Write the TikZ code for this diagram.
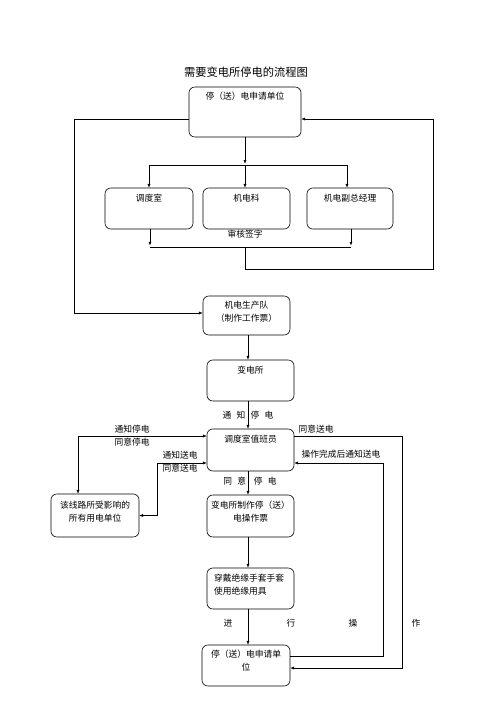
\documentclass[tikz,border=0pt]{standalone}
\usepackage{fontspec}
\setmainfont{Noto Sans CJK SC}
\usetikzlibrary{arrows.meta}
\begin{document}
\begin{tikzpicture}[x=1.2pt,y=-1.2pt,
 box/.style={draw, rounded corners=7pt, line width=0.7pt, inner sep=0pt},
 txt/.style={font=\fontsize{10.5pt}{15.6pt}\selectfont, inner sep=0pt, align=center},
 ln/.style={line width=0.6pt},
 arr/.style={ln, -{Latex[length=4.5pt,width=3.6pt]}}]
\useasboundingbox[fill=white] (0,0) rectangle (496,702);

\node[font=\fontsize{13.5pt}{16pt}\selectfont, inner sep=0pt] (title) at (246,72) {需要变电所停电的流程图};

% boxes
\node[box, minimum width=134.4pt, minimum height=60pt] (A) at (245,112) {};
\node[box, minimum width=105.6pt, minimum height=49.2pt] (B1) at (149,208.5) {};
\node[box, minimum width=104.4pt, minimum height=49.2pt] (B2) at (246.5,208.5) {};
\node[box, minimum width=103.2pt, minimum height=49.2pt] (B3) at (350,208.5) {};
\node[box, minimum width=104.4pt, minimum height=46.8pt] (C) at (246.5,315.5) {};
\node[box, minimum width=104.4pt, minimum height=49.2pt] (D) at (250.5,380.5) {};
\node[box, minimum width=104.4pt, minimum height=50.4pt] (E) at (250.5,450) {};
\node[box, minimum width=105.6pt, minimum height=51.6pt] (F) at (95,515.5) {};
\node[box, minimum width=104.4pt, minimum height=50.4pt] (G) at (250.5,516) {};
\node[box, minimum width=104.4pt, minimum height=49.2pt] (H) at (250.5,588.5) {};
\node[box, minimum width=105.6pt, minimum height=49.2pt] (I) at (246,665.5) {};

% box texts
\node[txt] (tA) at (245,96) {停（送）电申请单位};
\node[txt] (tB1) at (149,198) {调度室};
\node[txt] (tB2) at (246.5,198) {机电科};
\node[txt] (tB3) at (350,198) {机电副总经理};
\node[txt] (tC) at (246.5,312) {机电生产队\\（制作工作票）};
\node[txt] (tD) at (250.5,370) {变电所};
\node[txt] (tE) at (250.5,439) {调度室值班员};
\node[txt] (tF) at (95,511.5) {该线路所受影响的\\所有用电单位};
\node[txt] (tG) at (250.5,511.5) {变电所制作停（送）\\电操作票};
\node[txt, align=left, anchor=west] (tH) at (214,584.5) {穿戴绝缘手套手套\\使用绝缘用具};
\node[txt] (tI) at (246,661) {停（送）电申请单\\位};

% top fan-out
\coordinate (j1) at (245,165);
\draw[arr] (A.south) -- ([yshift=1.5pt]j1);
\draw[ln] (j1 -| B1.center) -- (j1 -| 347,0);
\draw[arr] (j1 -| B1.center) -- (B1.north);
\draw[arr] (j1) -- (j1 |- B2.north);
\draw[arr] (347,165) coordinate (j1r) -- (j1r |- B3.north);

% sign-off merge
\coordinate (j2) at (245,247);
\coordinate (j2l) at (150,247);
\coordinate (j2r) at (351,247);
\draw[arr] (j2l |- B1.south) -- ([yshift=1.8pt]j2l);
\draw[arr] (j2r |- B3.south) -- ([yshift=1.8pt]j2r);
\draw[ln] (j2l) -- (j2r);
\node[txt] (lsign) at (245,234) {审核签字};
\coordinate (k1) at (245,269);
\coordinate (k2) at (433,269);
\coordinate (k3) at (433,119);
\draw[arr] (j2) -- (k1) -- (k2) -- (k3) -- (k3 -| A.east);

% left loop to C
\coordinate (m1) at (74,119);
\coordinate (m2) at (74,313);
\draw[arr] (m1 -| A.west) -- (m1) -- (m2) -- (m2 -| C.west);

% vertical chain
\draw[arr] (248,0 |- C.south) coordinate (c1) -- (c1 |- D.north);
\draw[arr] (248,0 |- D.south) coordinate (d1) -- (d1 |- E.north);
\node[txt] (l1) at (248,415) {通\hspace{0.6em}知\hspace{0.6em}停\hspace{0.6em}电};
\draw[arr] (248,0 |- E.south) coordinate (e1) -- (e1 |- G.north);
\node[txt] (l2) at (250,481) {同\hspace{0.6em}意\hspace{0.9em}停\hspace{0.6em}电};
\draw[arr] (248,0 |- G.south) coordinate (g1) -- (g1 |- H.north);
\draw[arr] (248,0 |- H.south) coordinate (h1) -- (h1 |- I.north);
\node[txt] (l3a) at (228,623) {进};
\node[txt] (l3b) at (291,623) {行};
\node[txt] (l3c) at (353,623) {操};
\node[txt] (l3d) at (416,623) {作};

% left connections
\coordinate (p1) at (78,436);
\draw[arr] (p1) -- (p1 -| E.west);
\draw[arr] (p1) -- (p1 |- F.north);
\node[txt] (l4) at (132,429) {通知停电};
\node[txt] (l5) at (132,442) {同意停电};
\coordinate (p2) at (157,463);
\draw[arr] (p2) -- (p2 -| E.west);
\draw[arr] (p2) |- (F.east);
\node[txt] (l6) at (180,455) {通知送电};
\node[txt] (l7) at (180,468) {同意送电};

% right connections
\coordinate (q1) at (402,436);
\coordinate (q2) at (402,668);
\draw[arr] (q1 -| E.east) -- (q1) -- (q2) -- (q2 -| I.east);
\node[txt] (l8) at (316,429) {同意送电};
\coordinate (q3) at (383,656);
\coordinate (q4) at (383,463);
\draw[arr] (q3 -| I.east) -- (q3) -- (q4) -- (q4 -| E.east);
\node[txt] (l9) at (341,454) {操作完成后通知送电};
\end{tikzpicture}
\end{document}
